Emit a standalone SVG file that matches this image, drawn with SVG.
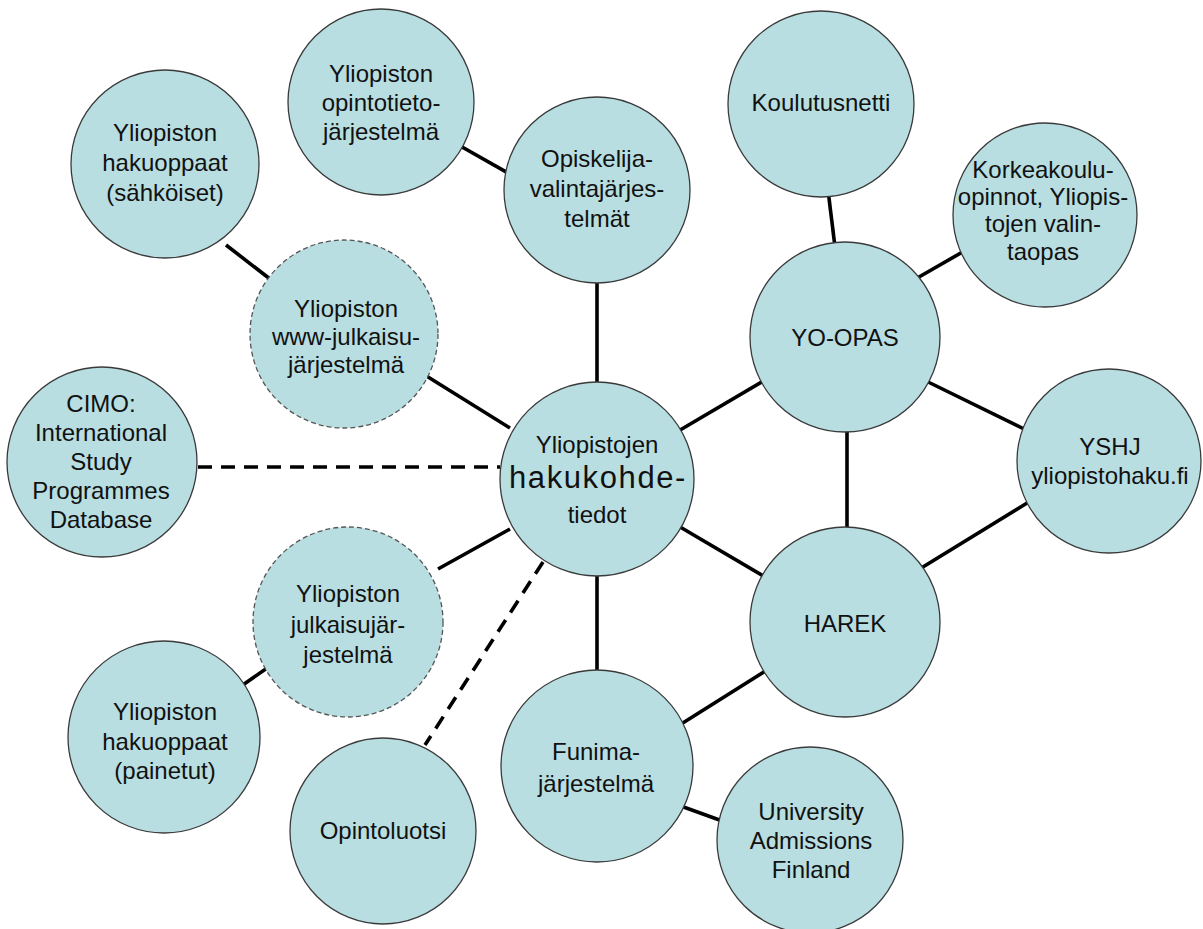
<svg xmlns="http://www.w3.org/2000/svg" width="1203" height="929" viewBox="0 0 1203 929">
<style>
.bg{fill:#ffffff}
.node{fill:#b8dee2;stroke:#3a3a3a;stroke-width:1.3}
.dashed{stroke-dasharray:5 3;stroke:#555}
.lbl{font-family:"Liberation Sans",Arial,sans-serif;font-size:24px;fill:#111;text-anchor:middle}
.big{font-size:31px;letter-spacing:1.6px}
.edge{stroke:#000;stroke-width:3.6;fill:none}
.dash{stroke-dasharray:14 9}
</style>
<rect class="bg" x="0" y="0" width="1203" height="929"/>
<g id="connectors">
<line class="edge" x1="455" y1="143" x2="522" y2="181"/>
<line class="edge" x1="226" y1="245" x2="283" y2="289"/>
<line class="edge" x1="597" y1="280" x2="597" y2="386"/>
<line class="edge" x1="420" y1="372" x2="510" y2="428"/>
<line class="edge" x1="828" y1="190" x2="835" y2="247"/>
<line class="edge" x1="912" y1="281" x2="966" y2="250"/>
<line class="edge" x1="765" y1="380" x2="675" y2="433"/>
<line class="edge" x1="922" y1="379" x2="1028" y2="431"/>
<line class="edge" x1="847" y1="428" x2="847" y2="532"/>
<line class="edge" x1="918" y1="570" x2="1032" y2="500"/>
<line class="edge" x1="675" y1="524" x2="765" y2="577"/>
<line class="edge" x1="438" y1="569" x2="510" y2="529"/>
<line class="edge" x1="237" y1="689" x2="270" y2="666"/>
<line class="edge" x1="597" y1="572" x2="597" y2="673"/>
<line class="edge" x1="678" y1="726" x2="767" y2="670"/>
<line class="edge" x1="678" y1="805" x2="725" y2="822"/>
<line class="edge dash" x1="198" y1="467" x2="500" y2="467"/>
<line class="edge dash" x1="543" y1="562" x2="425" y2="745"/>
</g>
<g id="n-opintotieto">
<circle class="node" cx="381" cy="102" r="93"/>
<text class="lbl" x="381" y="82">Yliopiston</text>
<text class="lbl" x="381" y="111">opintotieto-</text>
<text class="lbl" x="381" y="140">järjestelmä</text>
</g>
<g id="n-hakuoppaat-sahkoiset">
<circle class="node" cx="165" cy="164" r="94"/>
<text class="lbl" x="165" y="141">Yliopiston</text>
<text class="lbl" x="165" y="171">hakuoppaat</text>
<text class="lbl" x="165" y="201">(sähköiset)</text>
</g>
<g id="n-opiskelijavalinta">
<circle class="node" cx="597" cy="190" r="93"/>
<text class="lbl" x="597" y="167">Opiskelija-</text>
<text class="lbl" x="597" y="197">valintajärjes-</text>
<text class="lbl" x="597" y="227">telmät</text>
</g>
<g id="n-koulutusnetti">
<circle class="node" cx="821" cy="104" r="93"/>
<text class="lbl" x="821" y="111">Koulutusnetti</text>
</g>
<g id="n-korkeakoulu">
<circle class="node" cx="1045" cy="215" r="92"/>
<text class="lbl" x="1043" y="178">Korkeakoulu-</text>
<text class="lbl" x="1043" y="205">opinnot, Yliopis-</text>
<text class="lbl" x="1043" y="232">tojen valin-</text>
<text class="lbl" x="1043" y="260">taopas</text>
</g>
<g id="n-yo-opas">
<circle class="node" cx="845" cy="337" r="95"/>
<text class="lbl" x="845" y="346">YO-OPAS</text>
</g>
<g id="n-www-julkaisu">
<circle class="node dashed" cx="344" cy="334" r="94"/>
<text class="lbl" x="346" y="317">Yliopiston</text>
<text class="lbl" x="346" y="345">www-julkaisu-</text>
<text class="lbl" x="346" y="373">järjestelmä</text>
</g>
<g id="n-cimo">
<circle class="node" cx="102" cy="462" r="95"/>
<text class="lbl" x="101" y="412">CIMO:</text>
<text class="lbl" x="101" y="441">International</text>
<text class="lbl" x="101" y="470">Study</text>
<text class="lbl" x="101" y="499">Programmes</text>
<text class="lbl" x="101" y="528">Database</text>
</g>
<g id="n-hakukohdetiedot">
<circle class="node" cx="597" cy="479" r="97"/>
<text class="lbl" x="597" y="453">Yliopistojen</text>
<text class="lbl big" x="598" y="488">hakukohde-</text>
<text class="lbl" x="597" y="523">tiedot</text>
</g>
<g id="n-yshj">
<circle class="node" cx="1109" cy="461" r="92"/>
<text class="lbl" x="1110" y="455">YSHJ</text>
<text class="lbl" x="1110" y="484">yliopistohaku.fi</text>
</g>
<g id="n-harek">
<circle class="node" cx="845" cy="622" r="95"/>
<text class="lbl" x="845" y="632">HAREK</text>
</g>
<g id="n-julkaisujarjestelma">
<circle class="node dashed" cx="348" cy="622" r="95"/>
<text class="lbl" x="348" y="602">Yliopiston</text>
<text class="lbl" x="348" y="633">julkaisujär-</text>
<text class="lbl" x="348" y="663">jestelmä</text>
</g>
<g id="n-hakuoppaat-painetut">
<circle class="node" cx="164" cy="737" r="96"/>
<text class="lbl" x="165" y="720">Yliopiston</text>
<text class="lbl" x="165" y="750">hakuoppaat</text>
<text class="lbl" x="165" y="779">(painetut)</text>
</g>
<g id="n-opintoluotsi">
<circle class="node" cx="383" cy="831" r="93"/>
<text class="lbl" x="383" y="839">Opintoluotsi</text>
</g>
<g id="n-funima">
<circle class="node" cx="597" cy="766" r="96"/>
<text class="lbl" x="596" y="760">Funima-</text>
<text class="lbl" x="596" y="792">järjestelmä</text>
</g>
<g id="n-uaf">
<circle class="node" cx="810" cy="840" r="93"/>
<text class="lbl" x="811" y="820">University</text>
<text class="lbl" x="811" y="849">Admissions</text>
<text class="lbl" x="811" y="878">Finland</text>
</g>
</svg>
